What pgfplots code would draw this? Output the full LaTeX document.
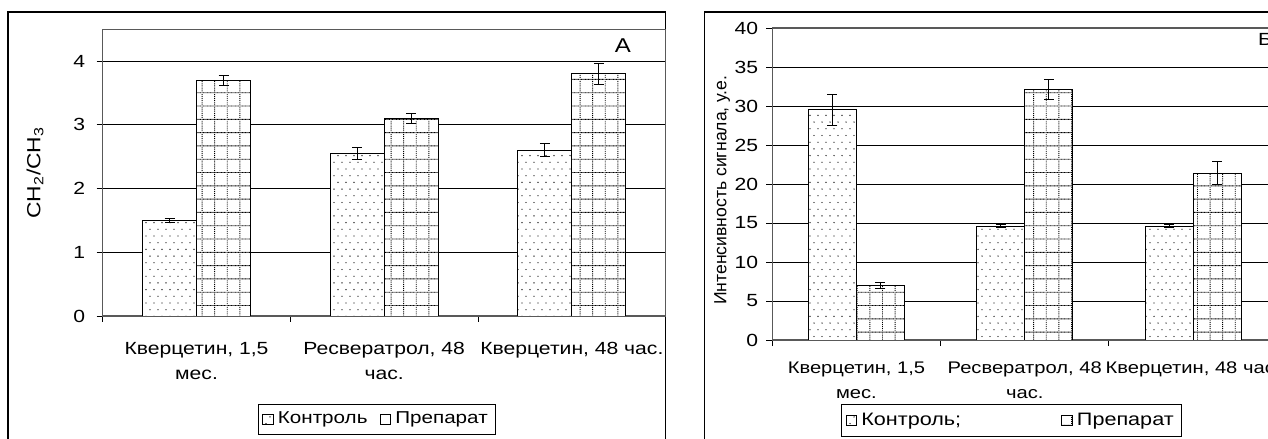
\documentclass[border=0pt]{standalone}
\usepackage{fontspec}
\setmainfont{Liberation Sans}[FakeStretch=1.2]
\newfontfamily\plainsans{Liberation Sans}
\usepackage{pgfplots}
\pgfplotsset{compat=1.18}
\usetikzlibrary{patterns}

\pgfdeclarepatternformonly{ctrldots}{\pgfqpoint{-0.5bp}{-0.5bp}}{\pgfqpoint{4.5bp}{7.2bp}}{\pgfqpoint{4bp}{6.7bp}}{%
  \pgfpathcircle{\pgfqpoint{1bp}{1bp}}{0.33bp}%
  \pgfpathcircle{\pgfqpoint{3bp}{4.35bp}}{0.33bp}%
  \pgfusepath{fill}}

\pgfdeclarepatternformonly{prepgrid}{\pgfqpoint{-0.3bp}{-0.3bp}}{\pgfqpoint{6.6bp}{6.9bp}}{\pgfqpoint{6.3bp}{6.65bp}}{%
  \pgfpathrectangle{\pgfqpoint{0bp}{0bp}}{\pgfqpoint{0.45bp}{0.45bp}}%
  \pgfpathrectangle{\pgfqpoint{0.7bp}{0bp}}{\pgfqpoint{0.45bp}{0.45bp}}%
  \pgfpathrectangle{\pgfqpoint{1.4bp}{0bp}}{\pgfqpoint{0.45bp}{0.45bp}}%
  \pgfpathrectangle{\pgfqpoint{2.1bp}{0bp}}{\pgfqpoint{0.45bp}{0.45bp}}%
  \pgfpathrectangle{\pgfqpoint{2.8bp}{0bp}}{\pgfqpoint{0.45bp}{0.45bp}}%
  \pgfpathrectangle{\pgfqpoint{3.5bp}{0bp}}{\pgfqpoint{0.45bp}{0.45bp}}%
  \pgfpathrectangle{\pgfqpoint{4.2bp}{0bp}}{\pgfqpoint{0.45bp}{0.45bp}}%
  \pgfpathrectangle{\pgfqpoint{4.9bp}{0bp}}{\pgfqpoint{0.45bp}{0.45bp}}%
  \pgfpathrectangle{\pgfqpoint{5.6bp}{0bp}}{\pgfqpoint{0.45bp}{0.45bp}}%
  \pgfpathrectangle{\pgfqpoint{0bp}{0.95bp}}{\pgfqpoint{0.45bp}{0.45bp}}%
  \pgfpathrectangle{\pgfqpoint{0bp}{1.9bp}}{\pgfqpoint{0.45bp}{0.45bp}}%
  \pgfpathrectangle{\pgfqpoint{0bp}{2.85bp}}{\pgfqpoint{0.45bp}{0.45bp}}%
  \pgfpathrectangle{\pgfqpoint{0bp}{3.8bp}}{\pgfqpoint{0.45bp}{0.45bp}}%
  \pgfpathrectangle{\pgfqpoint{0bp}{4.75bp}}{\pgfqpoint{0.45bp}{0.45bp}}%
  \pgfpathrectangle{\pgfqpoint{0bp}{5.7bp}}{\pgfqpoint{0.45bp}{0.45bp}}%
  \pgfusepath{fill}}

\pgfplotstableread{
x ctrl ctrlerr prep preperr
0 1.50 0.03 3.70 0.08
1 2.55 0.10 3.10 0.08
2 2.60 0.10 3.80 0.16
}\tabA

\pgfplotstableread{
x ctrl ctrlerr prep preperr
0 29.5 2.0 6.95 0.40
1 14.6 0.2 32.1 1.30
2 14.6 0.2 21.4 1.45
}\tabB

\pgfplotsset{
  panel/.style={
    scale only axis,
    ybar=0pt,
    xmin=-0.5, xmax=2.5,
    ymin=0,
    xtick={0,1,2},
    minor xtick={-0.5,0.5,1.5,2.5},
    major x tick style={draw=none},
    tick align=outside,
    tick pos=left,
    major tick length=3bp,
    minor tick length=3bp,
    tick style={black, line width=0.5bp},
    ymajorgrids,
    grid style={black, line width=0.5bp},
    axis line style={black!65, line width=0.6bp},
    /pgf/number format/assume math mode=true,
    yticklabel style={anchor=east, inner sep=0pt, font=\fontsize{8.8bp}{12.5bp}\selectfont},
    legend image code/.code={\draw[#1, line width=0.5bp] (0bp,-2.7bp) rectangle (5.4bp,2.7bp);},
    legend style={draw=black, line width=0.5bp,
      anchor=center, legend columns=-1, inner sep=2bp},
    legend cell align=left,
    xticklabels={{Кверцетин, 1,5\\мес.},{Ресвератрол, 48\\час.},{Кверцетин, 48 час.}},
  },
  ctrlbar/.style={draw=black, line width=0.5bp, fill=white, postaction={pattern=ctrldots},
    error bars/.cd, y dir=both, y explicit,
    error bar style={black, line width=0.5bp},
    error mark options={rotate=90, mark size=2.5bp, line width=0.5bp, black}},
  prepbar/.style={draw=black, line width=0.5bp, fill=white, postaction={pattern=prepgrid},
    error bars/.cd, y dir=both, y explicit,
    error bar style={black, line width=0.5bp},
    error mark options={rotate=90, mark size=2.5bp, line width=0.5bp, black}},
}

\begin{document}
\begin{tikzpicture}
\useasboundingbox (0,0) rectangle (634bp,219.5bp);
\clip (0,0) rectangle (634bp,219.5bp);
\fill[white] (0,0) rectangle (634bp,219.5bp);
% outer frames
\draw[black, line width=0.75bp] (4bp,-5bp) rectangle (332.85bp,213.5bp);
\draw[black, line width=0.75bp] (352.15bp,-5bp) rectangle (660bp,213.6bp);

\begin{axis}[panel,
  at={(51.35bp,61.5bp)}, anchor=south west,
  width=281.5bp, height=143.35bp,
  ymax=4.5, ytick={0,1,2,3,4},
  bar width=27bp,
  xticklabel style={align=center, anchor=north, inner sep=0pt, yshift=-9.8bp,
    font=\fontsize{8.8bp}{12.5bp}\selectfont},
  yticklabel style={xshift=-5.6bp},
  ylabel={CH\textsubscript{2}/CH\textsubscript{3}},
  every axis y label/.style={at={(axis description cs:-0.120,0.5)}, rotate=90, anchor=center,
    font=\fontsize{9.5bp}{11bp}\selectfont},
  legend style={at={(axis description cs:0.487,-0.361)}, font=\fontsize{8.6bp}{10bp}\selectfont,
    /tikz/every even column/.append style={column sep=4bp}},
]
\addplot[ctrlbar] table[x=x, y=ctrl, y error=ctrlerr] {\tabA};
\addplot[prepbar] table[x=x, y=prep, y error=preperr] {\tabA};
\legend{Контроль, Препарат}
\node[font=\fontsize{10bp}{12bp}\selectfont] at (axis description cs:0.924,0.943) {А};
\end{axis}

\begin{axis}[panel,
  at={(386.15bp,49.5bp)}, anchor=south west,
  width=252.45bp, height=156bp,
  ymax=40, ytick={0,5,...,40},
  bar width=24bp,
  xticklabel style={align=center, anchor=north, inner sep=0pt, yshift=-7.6bp,
    font=\fontsize{8.4bp}{12.5bp}\selectfont},
  yticklabel style={xshift=-3.9bp},
  ylabel={Интенсивность сигнала, у.е.},
  every axis y label/.style={at={(axis description cs:-0.0996,0.48)}, rotate=90, anchor=center,
    font=\plainsans\fontsize{8.8bp}{10bp}\selectfont},
  legend style={at={(axis description cs:0.474,-0.258)}, font=\fontsize{9bp}{11bp}\selectfont,
    /tikz/every even column/.append style={column sep=48bp}},
]
\addplot[ctrlbar] table[x=x, y=ctrl, y error=ctrlerr] {\tabB};
\addplot[prepbar] table[x=x, y=prep, y error=preperr] {\tabB};
\legend{Контроль;, Препарат}
\node[font=\fontsize{8.8bp}{10bp}\selectfont] at (axis description cs:0.976,0.962) {Б};
\end{axis}
\end{tikzpicture}
\end{document}
